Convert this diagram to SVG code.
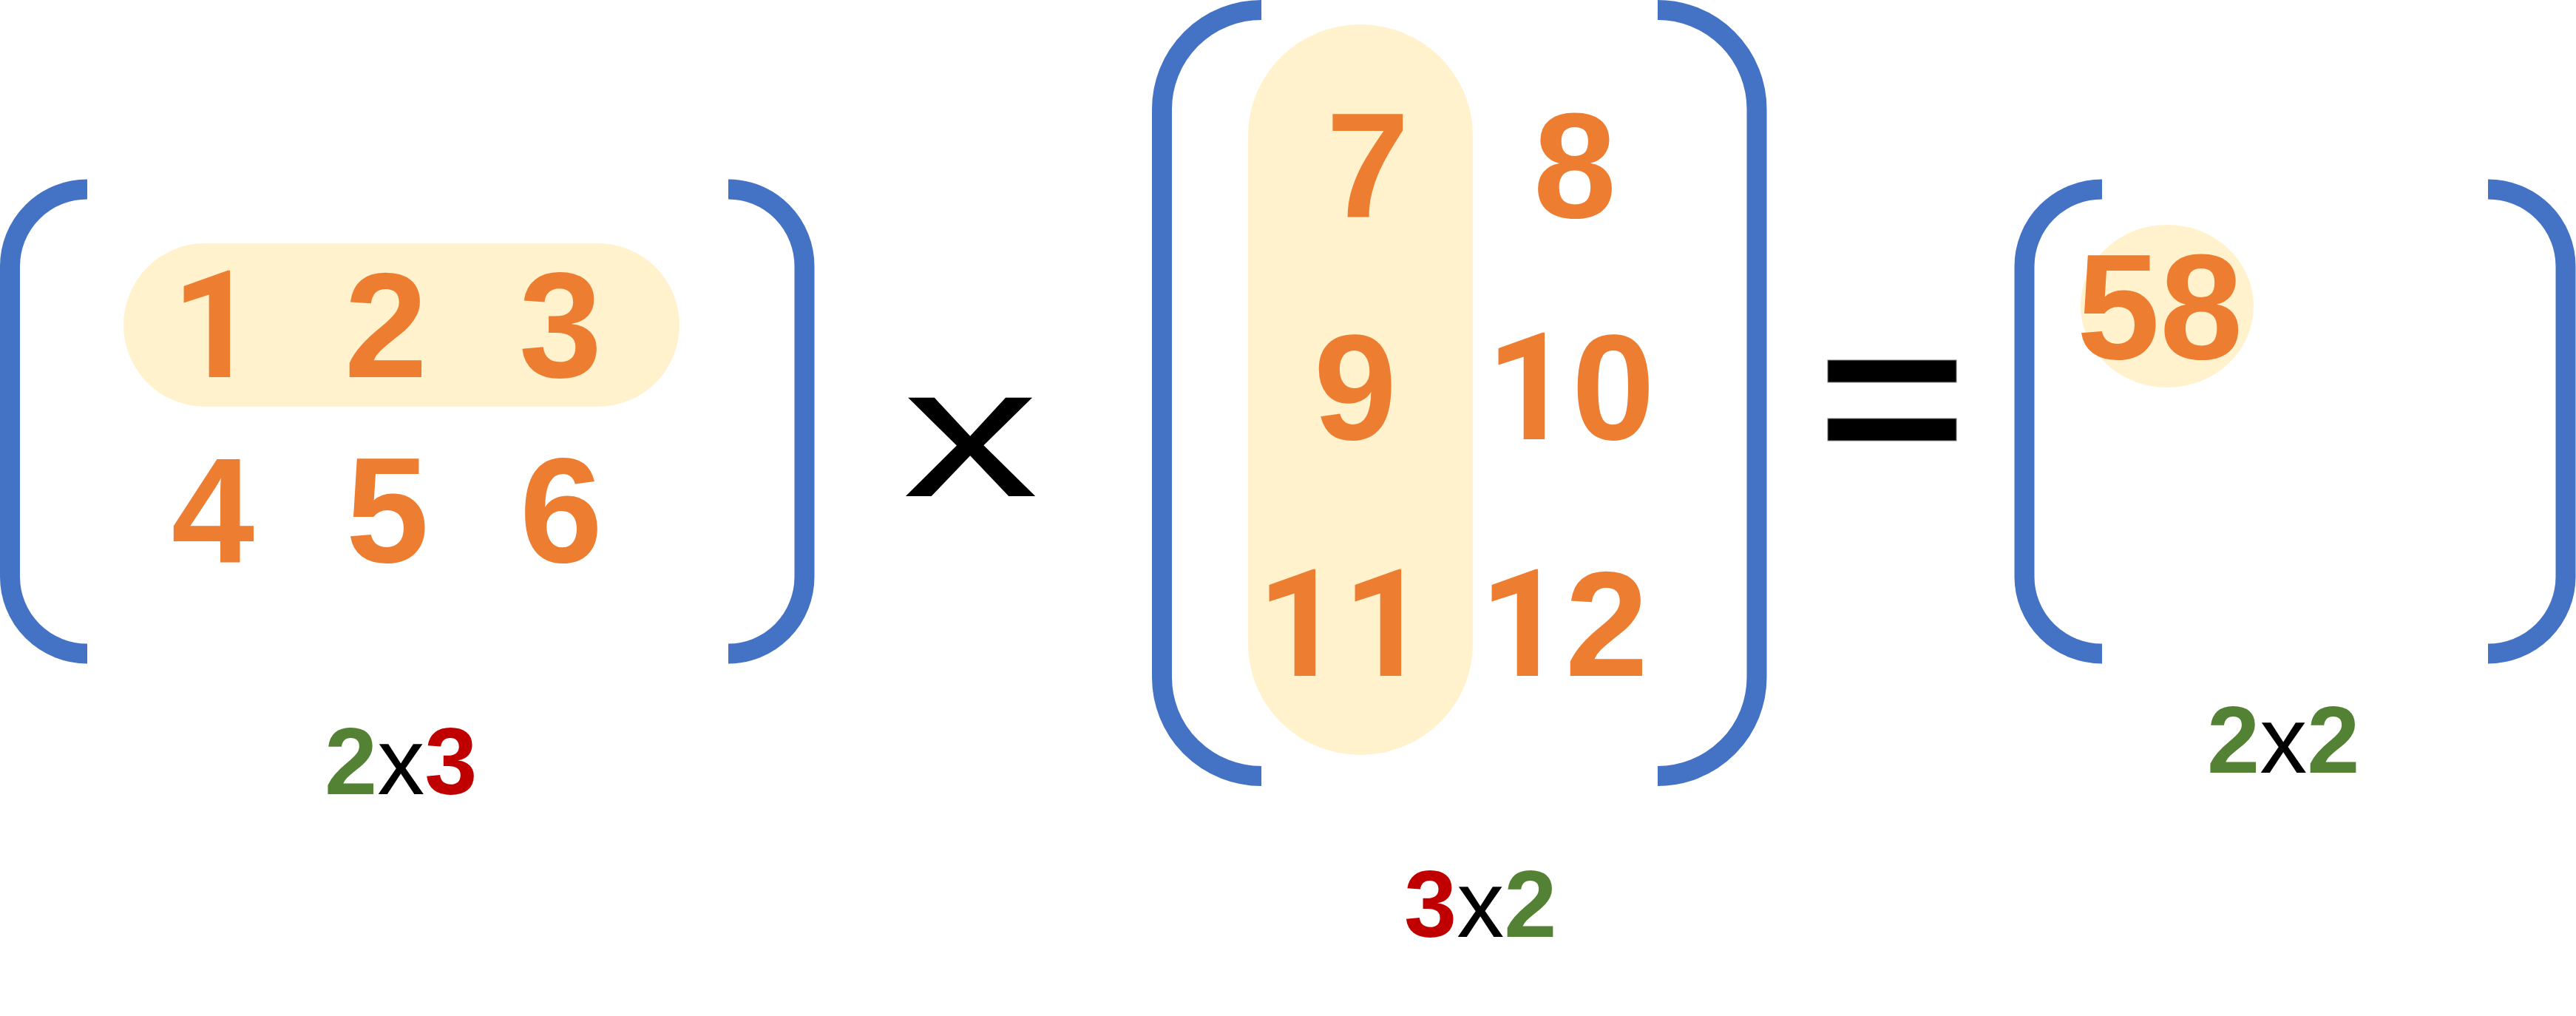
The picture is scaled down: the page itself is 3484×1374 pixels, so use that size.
<svg xmlns="http://www.w3.org/2000/svg" width="3484" height="1374" viewBox="0 0 3484 1374">
<style>
.br{fill:none;stroke:#4472C4;stroke-width:27;stroke-linecap:butt}
.hl{fill:#FFF2CC}
.n{font-family:"Liberation Sans",Arial,sans-serif;font-weight:bold;font-size:202px;fill:#ED7D31;text-anchor:middle}
.one{font-family:Roboto,"Liberation Sans",Arial,sans-serif}
.lab{font-family:"Liberation Sans",Arial,sans-serif;font-size:128px}
.g{fill:#548235;font-weight:bold}
.r{fill:#C00000;font-weight:bold}
.k{fill:#000000}
.eq{fill:#000000;stroke:#7F7F7F;stroke-width:1}
</style>
<rect width="3484" height="1374" fill="#FFFFFF"/>
<g id="matrixA">
  <rect class="hl" x="167" y="329" width="752" height="221" rx="110.5" ry="110.5"/>
  <path class="br" d="M118,256 A104.5,104 0 0 0 13.5,360 V780 A104.5,104 0 0 0 118,884"/>
  <path class="br" d="M985,256 A103,104 0 0 1 1088,360 V780 A103,104 0 0 1 985,884"/>
  <text class="n" x="290" y="510"><tspan class="one">1</tspan></text>
  <text class="n" x="522" y="510">2</text>
  <text class="n" x="758" y="510">3</text>
  <text class="n" x="288" y="760">4</text>
  <text class="n" x="524" y="760">5</text>
  <text class="n" x="759" y="760">6</text>
</g>
<g id="labelA">
  <text class="lab" x="439" y="1074"><tspan class="g">2</tspan><tspan class="k">x</tspan><tspan class="r">3</tspan></text>
</g>
<g id="times">
  <text transform="translate(1312.5,671) scale(1.455,1)" font-family="Liberation Sans, Arial, sans-serif" font-size="252" fill="#000000" text-anchor="middle">x</text>
</g>
<g id="matrixB">
  <rect class="hl" x="1688" y="33" width="304" height="988" rx="152" ry="150"/>
  <path class="br" d="M1706,13.5 A134.5,134 0 0 0 1571.5,147.5 V916 A134.5,133.5 0 0 0 1706,1049.5"/>
  <path class="br" d="M2242,13.5 A134,134 0 0 1 2376,147.5 V916 A134,133.5 0 0 1 2242,1049.5"/>
  <text class="n" x="1850" y="294">7</text>
  <text class="n" x="2130" y="294">8</text>
  <text class="n" x="1833" y="594">9</text>
  <text class="n" x="2124" y="594"><tspan class="one">1</tspan>0</text>
  <text class="n" x="1816" y="914"><tspan class="one">11</tspan></text>
  <text class="n" x="2115" y="914"><tspan class="one">1</tspan>2</text>
</g>
<g id="labelB">
  <text class="lab" x="1899" y="1267"><tspan class="r">3</tspan><tspan class="k">x</tspan><tspan class="g">2</tspan></text>
</g>
<g id="equals">
  <rect class="eq" x="2472" y="487" width="174" height="30"/>
  <rect class="eq" x="2472" y="566" width="174" height="30"/>
</g>
<g id="matrixC">
  <ellipse class="hl" cx="2931" cy="414" rx="117" ry="110"/>
  <path class="br" d="M2843,256 A105,104 0 0 0 2738,360 V780 A105,104 0 0 0 2843,884"/>
  <path class="br" d="M3365,256 A105,104 0 0 1 3470,360 V780 A105,104 0 0 1 3365,884"/>
  <text class="n" x="2921" y="485">58</text>
</g>
<g id="labelC">
  <text class="lab" x="2985" y="1045"><tspan class="g">2</tspan><tspan class="k">x</tspan><tspan class="g">2</tspan></text>
</g>
<g id="connectors"/>
</svg>
